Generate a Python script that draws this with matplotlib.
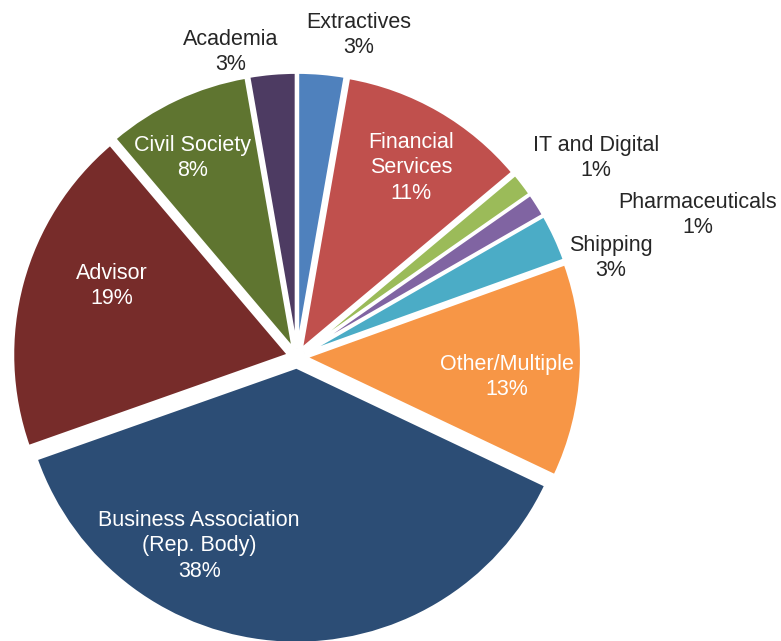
import numpy as np
import matplotlib
matplotlib.use("Agg")
import matplotlib.pyplot as plt

categories = ["Extractives", "Financial\nServices", "IT and Digital", "Pharmaceuticals",
              "Shipping", "Other/Multiple", "Business Association\n(Rep. Body)",
              "Advisor", "Civil Society", "Academia"]
values = [2.75, 11.15, 1.4, 1.4, 2.8, 12.55, 37.55, 19.2, 8.45, 2.75]
pct_labels = ["3%", "11%", "1%", "1%", "3%", "13%", "38%", "19%", "8%", "3%"]
colors = ["#4F81BD", "#C0504D", "#9BBB59", "#8064A2", "#4BACC6",
          "#F79646", "#2C4D75", "#772C2A", "#5F7530", "#4D3B62"]
inside = [False, True, False, False, False, True, True, True, True, False]
explode = [0.031, 0.031, 0.031, 0.031, 0.031, 0.031, 0.037, 0.031, 0.031, 0.031]
# label placement (radius in pie radii, angle offset from wedge mid-angle in degrees)
label_r = [1.188, 0.80, 1.301, 1.541, 1.193, 0.764, 0.771, 0.718, 0.814, 1.131]
label_dang = [-5.95, -1.1, -3.8, -12.9, -7.3, -2.6, -24.4, -5.9, 2.5, 7.25]

plt.rcParams['font.family'] = ['Liberation Sans', 'DejaVu Sans']

fig = plt.figure(figsize=(7.81, 6.41), dpi=100)
ax = fig.add_axes([0, 0, 1, 1])
wedges, _ = ax.pie(values, colors=colors, startangle=90, counterclock=False,
                   explode=explode, radius=1.0, normalize=True,
                   wedgeprops=dict(edgecolor="white", linewidth=2.2))
ax.set_xlim(-1.076, 1.754)
ax.set_ylim(-1.029, 1.293)
ax.set_aspect('auto')
ax.axis('off')

for w, cat, pl, ins, r, da in zip(wedges, categories, pct_labels, inside, label_r, label_dang):
    mid = (w.theta1 + w.theta2) / 2.0 + da
    x = r * np.cos(np.deg2rad(mid))
    y = r * np.sin(np.deg2rad(mid))
    ax.text(x, y, f"{cat}\n{pl}", ha="center", va="center",
            fontsize=15.5, color="white" if ins else "#262626", linespacing=1.27,
            multialignment="center")

fig.savefig("out.png", dpi=100)
